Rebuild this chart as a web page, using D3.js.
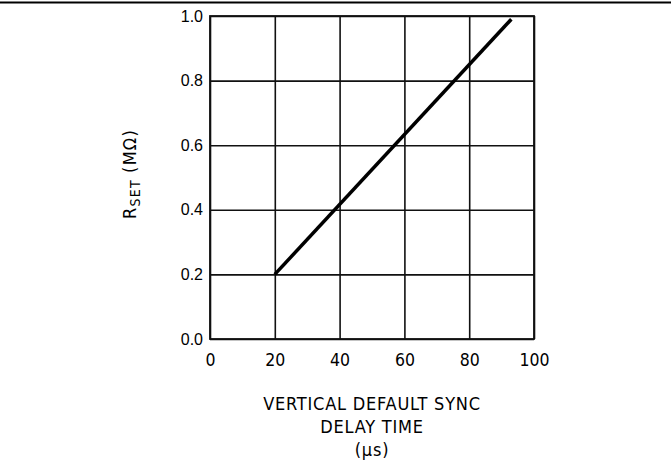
<!DOCTYPE html>
<html>
<head>
<meta charset="utf-8">
<script src="https://cdn.jsdelivr.net/npm/d3@7"></script>
<style>
  body { margin: 0; background: #fff; }
  svg { display: block; }
</style>
</head>
<body>
<script>
// data
var delayTime = [20, 93];        // us
var rSet = [0.2, 0.99];          // Mohm
var xTicks = [0, 20, 40, 60, 80, 100];
var yTicks = [0.0, 0.2, 0.4, 0.6, 0.8, 1.0];
var titleLines = ["VERTICAL DEFAULT SYNC", "DELAY TIME", "(\u03bcs)"];

var width = 671,
    height = 466;

var svg = d3.select("body").append("svg")
    .attr("width", width)
    .attr("height", height);

// rule across the top of the page
svg.append("line")
    .attr("x1", 0).attr("x2", width)
    .attr("y1", 2.5).attr("y2", 2.5)
    .attr("stroke", "#000")
    .attr("stroke-width", 2);

var x = d3.scaleLinear().domain([0, 100]).range([210, 534]);
var y = d3.scaleLinear().domain([0, 1]).range([339, 16]);

// grid
var grid = svg.append("g").attr("class", "grid");

grid.append("g")
    .attr("transform", "translate(0," + y(0) + ")")
    .call(d3.axisBottom(x).tickValues(xTicks).tickSize(-(y(0) - y(1))).tickFormat(""))
    .call(function(g) { g.select(".domain").remove(); });

grid.append("g")
    .attr("transform", "translate(" + x(0) + ",0)")
    .call(d3.axisLeft(y).tickValues(yTicks).tickSize(-(x(100) - x(0))).tickFormat(""))
    .call(function(g) { g.select(".domain").remove(); });

grid.selectAll("line")
    .attr("stroke", "#111")
    .attr("stroke-width", 1.6);

grid.append("rect")
    .attr("x", x(0)).attr("y", y(1))
    .attr("width", x(100) - x(0))
    .attr("height", y(0) - y(1))
    .attr("fill", "none")
    .attr("stroke", "#111")
    .attr("stroke-width", 1.8);

// tick labels
var yAxis = svg.append("g")
    .attr("transform", "translate(" + x(0) + ",0)")
    .call(d3.axisLeft(y).tickValues(yTicks).tickSize(0).tickPadding(7).tickFormat(d3.format(".1f")));
yAxis.select(".domain").remove();
yAxis.selectAll("text")
    .attr("font-family", "Liberation Sans, Arial, sans-serif")
    .attr("font-size", 16)
    .attr("fill", "#000");

var xAxis = svg.append("g")
    .attr("transform", "translate(0," + y(0) + ")")
    .call(d3.axisBottom(x).tickValues(xTicks).tickSize(0).tickPadding(15).tickFormat(d3.format("d")));
xAxis.select(".domain").remove();
xAxis.selectAll("text")
    .attr("font-family", "DejaVu Sans Condensed, DejaVu Sans, sans-serif")
    .attr("font-size", 17.5)
    .attr("fill", "#000");

// the curve
var line = d3.line()
    .x(function(d) { return x(d[0]); })
    .y(function(d) { return y(d[1]); });

svg.append("path")
    .datum(d3.zip(delayTime, rSet))
    .attr("d", line)
    .attr("fill", "none")
    .attr("stroke", "#000")
    .attr("stroke-width", 3.5)
    .attr("stroke-linecap", "butt");

// x title
svg.append("g")
    .selectAll("text")
    .data(titleLines)
  .enter().append("text")
    .attr("x", 372)
    .attr("y", function(d, i) { return 410 + i * 23; })
    .attr("text-anchor", "middle")
    .attr("font-family", "DejaVu Sans Condensed, DejaVu Sans, sans-serif")
    .attr("font-size", 18)
    .attr("letter-spacing", 0.8)
    .attr("fill", "#000")
    .text(function(d) { return d; });

// y title
var yt = svg.append("text")
    .attr("transform", "translate(136,174) rotate(-90)")
    .attr("text-anchor", "middle")
    .attr("font-family", "DejaVu Sans Condensed, DejaVu Sans, sans-serif")
    .attr("font-size", 18)
    .attr("letter-spacing", 1.2)
    .attr("fill", "#000");
yt.append("tspan").text("R");
yt.append("tspan").attr("font-size", 14).attr("dy", 4).text("SET");
yt.append("tspan").attr("dy", -4).text(" (M\u03a9)");
</script>
</body>
</html>
